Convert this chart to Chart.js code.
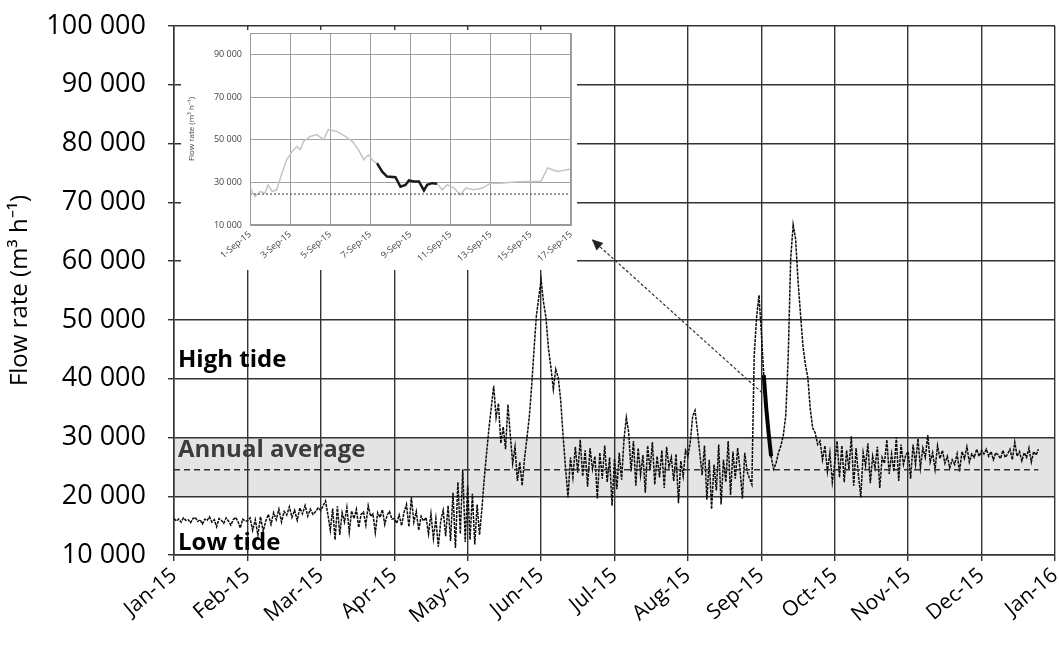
<!DOCTYPE html>
<html><head><meta charset="utf-8">
<script src="https://cdn.jsdelivr.net/npm/chart.js@4.4.0/dist/chart.umd.min.js"></script>
<style>
html,body{margin:0;padding:0;background:#fff;}
#wrap{position:relative;width:1059px;height:652px;overflow:hidden;}
#main{position:absolute;left:0;top:0;}
#insetBox{position:absolute;left:181px;top:30px;width:396px;height:240px;background:#fff;}
</style></head><body>
<div id="wrap">
<canvas id="main" width="1059" height="652"></canvas>
<div id="insetBox"><canvas id="inset" width="396" height="240"></canvas></div>
</div>
<script>
// ---------- main chart data (daily flow, m3/h) ----------
const monthLabels = ['Jan-15','Feb-15','Mar-15','Apr-15','May-15','Jun-15','Jul-15','Aug-15','Sep-15','Oct-15','Nov-15','Dec-15','Jan-16'];
const daysInMonth = [31,28,31,30,31,30,31,31,30,31,30,31];
const flowJan = [16200,15800,16100,15600,16300,15900,16000,15500,16200,16400,15700,16000,15300,16100,15900,16500,15600,16000,14800,16200,15900,15400,16300,15800,15100,16000,16400,15700,14600,16100,15800];
const flowFeb = [15800,16300,14200,16000,13400,16500,14000,15800,16900,15200,17200,16000,17800,15600,17400,16800,18200,16400,17600,15900,18000,17000,18400,16600,17800,16900,17400,18000];
const flowMar = [17600,18400,19200,16800,14200,17900,12600,18300,13400,17200,15600,18100,13900,17500,16200,17800,14700,16900,17300,15100,18400,16600,17000,13800,17200,16400,17700,15200,16800,17400,16100];
const flowApr = [16200,15400,16800,15000,17300,18600,14800,19800,15600,17400,14200,16600,15800,16400,13600,17000,12800,16200,11400,15800,17600,13200,18400,12400,20600,11200,22400,13600,24600,12200];
const flowMay = [21800,12600,20400,11800,18600,13400,17800,23000,27400,31600,35200,38800,33400,35800,29000,31800,28000,35600,30400,25600,28400,22600,25800,21800,26400,29800,33400,38600,44800,50600,53800];
const flowJun = [56800,53000,50400,45200,42000,38200,41600,40200,36400,30200,24800,19800,26600,23200,28400,24000,29600,23400,27800,21600,28200,24600,26800,19600,27400,23000,28600,22400,26600,18400];
const flowJul = [26400,21200,27400,22800,29600,33400,30800,24200,29400,21800,28200,23600,27000,20600,28600,24400,29200,22000,26800,23200,27800,21400,28400,25000,26600,22600,27200,18800,26000,23400,27800];
const flowAug = [26800,29200,33600,34600,31200,27400,23600,28600,19400,26200,17800,25400,21000,28800,18600,26200,22400,29400,20200,27600,23000,28200,24600,19600,27400,24200,23000,22000,44000,50400,54200];
const flowSep = [47800,40600,35000,30600,26800,24600,25600,27400,28600,30400,33800,44000,60400,66200,63800,56600,51000,45600,42400,40200,34800,31600,30800,28800,29400,26200,28600,24200,27400,22400];
const flowOct = [25600,29400,23200,28600,22400,27800,24600,30200,21800,28200,23600,19800,27400,25200,29000,22200,26800,24800,28400,21400,26600,25600,29600,23800,27200,24200,30000,22600,28800,25400,27000];
const flowNov = [27600,23000,28800,25400,29800,24800,28200,26600,30400,25800,27400,24600,28600,26400,27800,25600,26800,24800,26200,25400,27200,24200,27600,26400,28400,25800,27200,26600,28000,26800];
const flowDec = [27800,27200,28000,26800,27600,26200,27400,27000,26400,27800,26600,27200,28000,26200,29200,26800,27600,26000,27400,26600,28200,25800,27600,27000,28000];
const monthlyFlows = [flowJan,flowFeb,flowMar,flowApr,flowMay,flowJun,flowJul,flowAug,flowSep,flowOct,flowNov,flowDec];
const highlightSepDays = [2,3,4,5];      // black segment (Sep)
const annualAverage = 24500;
const bandLow = 20000, bandHigh = 30000;

// ---------- inset data (1-17 Sep) ----------
const insetTicksY = [10000,30000,50000,70000,90000];
const insetDayGrey = [1,1.25,1.5,1.75,1.9,2.1,2.33,2.6,2.83,3.1,3.33,3.5,3.67,4,4.33,4.67,4.9,5.33,5.75,6.1,6.4,6.67,6.9,7.17,7.33];
const insetFlowGrey = [27400,23300,25700,25000,28800,25700,26500,34500,40600,44500,46800,45300,49200,51500,52400,50000,54700,53900,51500,49200,45300,40600,42900,39800,39000];
const insetDayBlack = [7.33,7.58,7.83,8.25,8.5,8.75,8.92,9.17,9.42,9.67,9.83,10.08,10.33];
const insetFlowBlack = [39000,35100,32700,32400,28000,28800,30900,30400,30400,26200,28800,29600,29300];
const insetDayGrey2 = [10.33,10.58,10.83,11.17,11.5,11.75,12.17,12.58,13,13.5,14.17,14.83,15.5,15.83,16.33,17];
const insetFlowGrey2 = [29300,26500,28800,27300,24100,27300,26500,27300,29600,29600,30200,30400,30400,36700,35100,36200];

// ---------- build point lists ----------
const mainPts = [];
monthlyFlows.forEach((arr, m) => arr.forEach((v, i) => mainPts.push({x: m + i / daysInMonth[m], y: v})));
const highlightPts = highlightSepDays.map(d => ({x: 8 + (d - 1) / daysInMonth[8], y: flowSep[d - 1]}));
const lastX = mainPts[mainPts.length - 1].x;
const avgPts = [{x: 0, y: annualAverage}, {x: lastX, y: annualAverage}];
const fmt = v => String(v).replace(/\B(?=(\d{3})+(?!\d))/g, ' ');
const noPad = s => { s.paddingTop = 0; s.paddingBottom = 0; s.paddingLeft = 0; s.paddingRight = 0; };

const decor = {
  id: 'decor',
  beforeDraw(chart) {
    const {ctx, chartArea: a, scales: {x, y}} = chart;
    ctx.save();
    ctx.fillStyle = '#fff';
    ctx.fillRect(0, 0, chart.width, chart.height);
    ctx.fillStyle = '#e4e4e4';
    const y1 = y.getPixelForValue(bandHigh), y2 = y.getPixelForValue(bandLow);
    ctx.fillRect(a.left, y1, a.right - a.left, y2 - y1);
    ctx.restore();
  },
  afterDatasetsDraw(chart) {
    const {ctx, chartArea: a, scales: {x, y}} = chart;
    ctx.save();
    ctx.font = 'bold 24px "Open Sans"';
    ctx.textBaseline = 'middle';
    ctx.textAlign = 'left';
    ctx.fillStyle = '#000';
    ctx.fillText('High tide', a.left + 4, y.getPixelForValue(43200));
    ctx.fillText('Low tide', a.left + 4, y.getPixelForValue(12000));
    ctx.fillStyle = '#3c3c3c';
    ctx.fillText('Annual average', a.left + 4, y.getPixelForValue(27900));
    // arrow
    const x0 = x.getPixelForValue(8.01), y0 = y.getPixelForValue(37600);
    const x1 = x.getPixelForValue(5.69), y1 = y.getPixelForValue(63700);
    ctx.strokeStyle = '#333';
    ctx.lineWidth = 1.2;
    ctx.setLineDash([3, 2]);
    ctx.beginPath(); ctx.moveTo(x0, y0); ctx.lineTo(x1, y1); ctx.stroke();
    ctx.setLineDash([]);
    const ang = Math.atan2(y1 - y0, x1 - x0), L = 11, W = 5;
    ctx.fillStyle = '#222';
    ctx.beginPath();
    ctx.moveTo(x1, y1);
    ctx.lineTo(x1 - L * Math.cos(ang) + W * Math.sin(ang), y1 - L * Math.sin(ang) - W * Math.cos(ang));
    ctx.lineTo(x1 - L * Math.cos(ang) - W * Math.sin(ang), y1 - L * Math.sin(ang) + W * Math.cos(ang));
    ctx.closePath(); ctx.fill();
    ctx.restore();
  }
};

new Chart(document.getElementById('main'), {
  type: 'line',
  data: {datasets: [
    {data: avgPts, borderColor: '#333', borderWidth: 1.3, borderDash: [6, 4], pointRadius: 0},
    {data: mainPts, borderColor: '#0a0a0a', borderWidth: 1.5, borderDash: [3, 1], pointRadius: 0, tension: 0},
    {data: highlightPts, borderColor: '#000', borderWidth: 4, pointRadius: 0}
  ]},
  options: {
    responsive: false, animation: false,
    layout: {padding: {top: 26, right: 4, left: 0, bottom: 0}},
    plugins: {legend: {display: false}, tooltip: {enabled: false}},
    scales: {
      x: {
        type: 'linear', min: 0, max: 12,
        afterFit: s => { s.height = 97; noPad(s); },
        grid: {color: '#333', lineWidth: 1.4, tickLength: 6},
        border: {color: '#333', width: 1.5},
        ticks: {stepSize: 1, autoSkip: false, maxRotation: 40, minRotation: 40, color: '#000', padding: 2,
          font: {family: 'Open Sans', size: 21}, callback: v => monthLabels[v]}
      },
      y: {
        min: 10000, max: 100000,
        afterFit: s => { s.width = 174; noPad(s); },
        grid: {color: '#333', lineWidth: 1.4, tickLength: 6},
        border: {color: '#333', width: 1.5},
        ticks: {stepSize: 10000, color: '#000', padding: 22, font: {family: 'Open Sans', size: 27}, callback: v => fmt(v)},
        title: {display: true, text: 'Flow rate (m³ h⁻¹)', color: '#000', font: {family: 'Open Sans', size: 24}, padding: {top: 6, bottom: 0}}
      }
    }
  },
  plugins: [decor]
});

// ---------- inset ----------
const toPts = (xs, ys) => xs.map((d, i) => ({x: d, y: ys[i]}));
const insetFrame = {
  id: 'insetFrame',
  afterDraw(chart) {
    const {ctx, chartArea: a} = chart;
    ctx.save();
    ctx.strokeStyle = '#999';
    ctx.lineWidth = 1;
    ctx.strokeRect(a.left + 0.5, a.top + 0.5, a.right - a.left - 1, a.bottom - a.top - 1);
    ctx.restore();
  }
};
new Chart(document.getElementById('inset'), {
  type: 'line',
  data: {datasets: [
    {data: [{x: 1, y: annualAverage}, {x: 17, y: annualAverage}], borderColor: '#555', borderWidth: 1.2, borderDash: [2, 2], pointRadius: 0},
    {data: toPts(insetDayGrey, insetFlowGrey), borderColor: '#c4c4c4', borderWidth: 1.5, pointRadius: 0},
    {data: toPts(insetDayGrey2, insetFlowGrey2), borderColor: '#c4c4c4', borderWidth: 1.5, pointRadius: 0},
    {data: toPts(insetDayBlack, insetFlowBlack), borderColor: '#1a1a1a', borderWidth: 2.5, pointRadius: 0}
  ]},
  options: {
    responsive: false, animation: false,
    layout: {padding: {top: 3, right: 6, left: 0, bottom: 0}},
    plugins: {legend: {display: false}, tooltip: {enabled: false}},
    scales: {
      x: {
        type: 'linear', min: 1, max: 17,
        afterFit: s => { s.height = 45; noPad(s); },
        grid: {color: '#a0a0a0', lineWidth: 1, tickLength: 0},
        border: {color: '#999', width: 1},
        ticks: {stepSize: 2, autoSkip: false, maxRotation: 40, minRotation: 40, color: '#444', padding: 4,
          font: {family: 'Open Sans', size: 9}, callback: v => v + '-Sep-15'}
      },
      y: {
        min: 10000, max: 100000,
        afterBuildTicks: s => { s.ticks = insetTicksY.map(v => ({value: v})); },
        afterFit: s => { s.width = 69; noPad(s); },
        grid: {color: '#a0a0a0', lineWidth: 1, tickLength: 0},
        border: {color: '#999', width: 1},
        ticks: {color: '#444', padding: 8, font: {family: 'Open Sans', size: 9}, callback: v => fmt(v)},
        title: {display: true, text: 'Flow rate (m³ h⁻¹)', color: '#444', font: {family: 'Open Sans', size: 8}, padding: {top: 6, bottom: 0}}
      }
    }
  },
  plugins: [insetFrame]
});
</script>
</body></html>
